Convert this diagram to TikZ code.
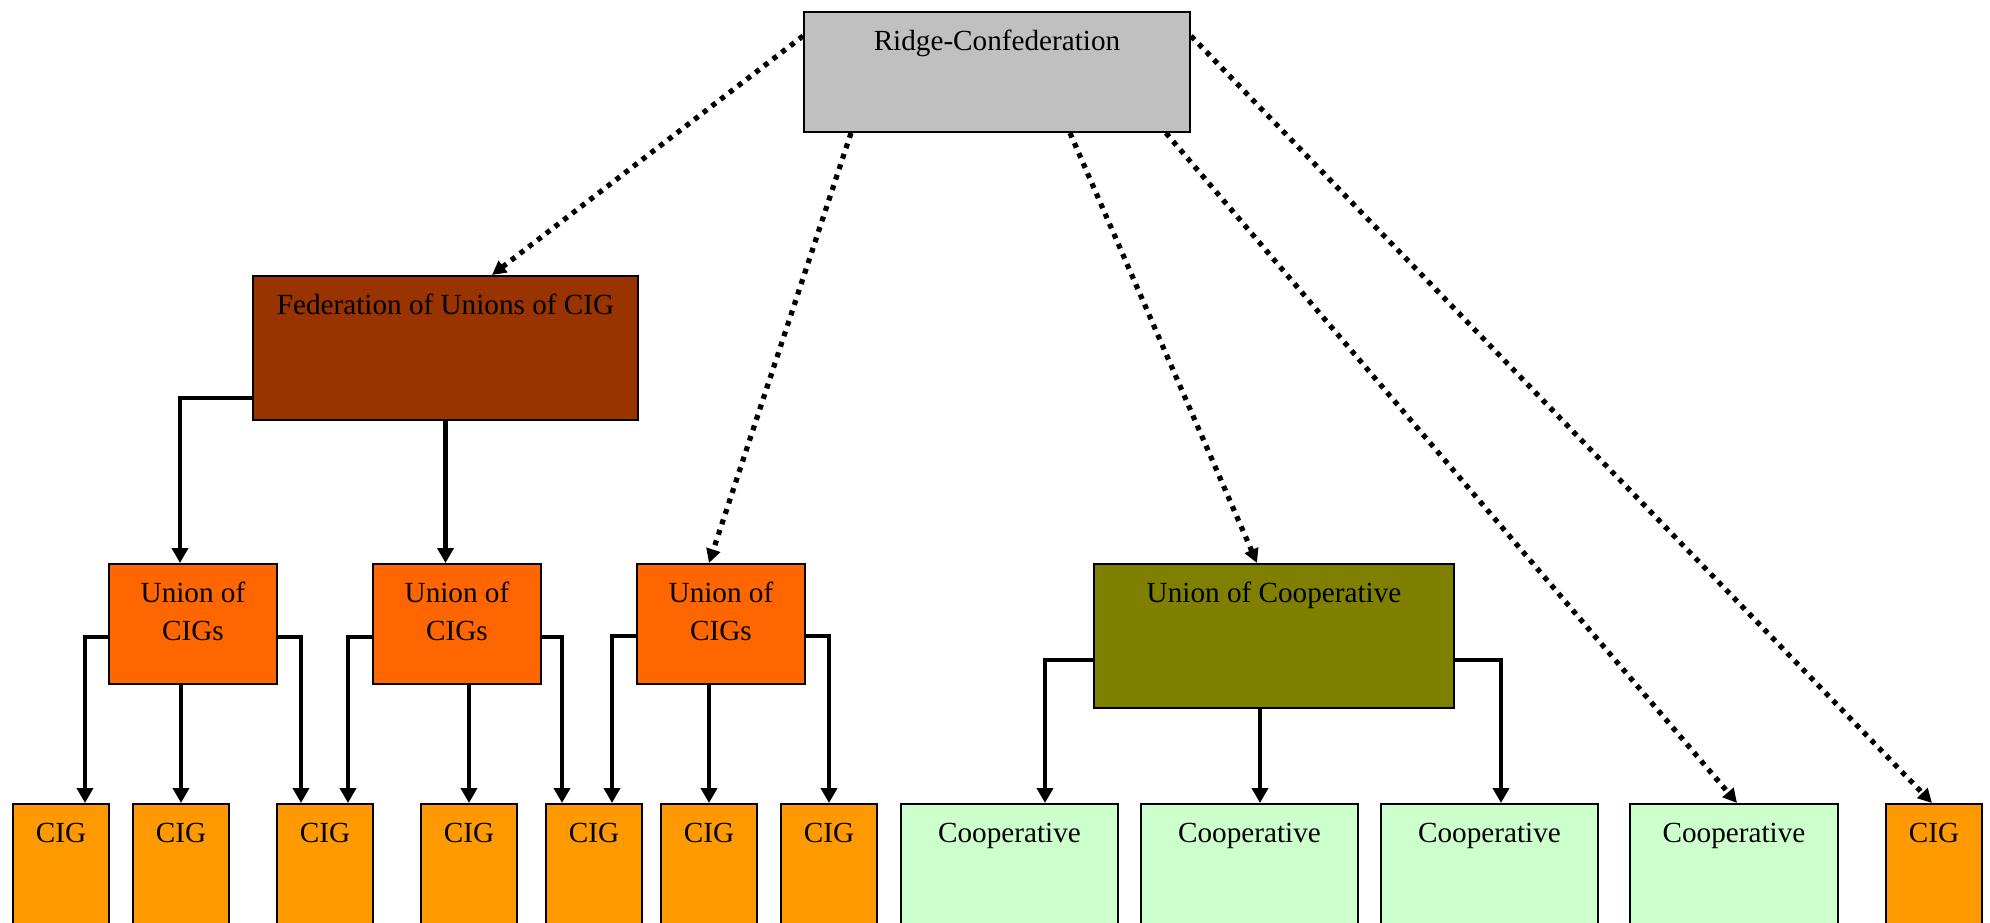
\documentclass[tikz,border=0pt]{standalone}
\usepackage{fontspec}
\setmainfont{Liberation Serif}
\usetikzlibrary{arrows.meta,calc}
\definecolor{ridgegray}{HTML}{C0C0C0}
\definecolor{fedbrown}{HTML}{993300}
\definecolor{unionorange}{HTML}{FF6600}
\definecolor{cigorange}{HTML}{FF9900}
\definecolor{coopolive}{HTML}{808000}
\definecolor{coopgreen}{HTML}{CCFFCC}
\tikzset{
  bx/.style={draw=black, line width=1pt, anchor=north west, inner xsep=0pt, inner ysep=0pt,
    text height=19pt, align=center,
    font=\fontsize{14.6pt}{19pt}\selectfont},
  twoline/.style={text height=38pt, text depth=22pt},
  conn/.style={line width=2.3pt, -{Triangle[width=8pt,length=7.5pt]}},
  dotconn/.style={line width=2.6pt, dash pattern=on 2.5pt off 3pt, -{Triangle[width=7pt,length=7pt]}},
}
\begin{document}
\begin{tikzpicture}[x=0.5pt,y=-0.5pt]
\useasboundingbox (0,0) rectangle (1990,922);
\clip (0,0) rectangle (1990,922);
% boxes
\node[bx, fill=ridgegray, minimum width=193pt, text depth=41pt] (ridge) at (803,11) {Ridge-Confederation};
\node[bx, fill=fedbrown, minimum width=192.5pt, text depth=53pt] (fed) at (252,275) {Federation of Unions of CIG};
\node[bx, twoline, fill=unionorange, minimum width=84pt] (u1) at (108,563) {Union of\\CIGs};
\node[bx, twoline, fill=unionorange, minimum width=84pt] (u2) at (372,563) {Union of\\CIGs};
\node[bx, twoline, fill=unionorange, minimum width=84pt] (u3) at (636,563) {Union of\\CIGs};
\node[bx, fill=coopolive, minimum width=180pt, text depth=53pt] (uc) at (1093,563) {Union of Cooperative};
\node[bx, fill=cigorange, minimum width=48pt, text depth=61pt] (c1) at (12,803) {CIG};
\node[bx, fill=cigorange, minimum width=48pt, text depth=61pt] (c2) at (132,803) {CIG};
\node[bx, fill=cigorange, minimum width=48pt, text depth=61pt] (c3) at (276,803) {CIG};
\node[bx, fill=cigorange, minimum width=48pt, text depth=61pt] (c4) at (420,803) {CIG};
\node[bx, fill=cigorange, minimum width=48pt, text depth=61pt] (c5) at (545,803) {CIG};
\node[bx, fill=cigorange, minimum width=48pt, text depth=61pt] (c6) at (660,803) {CIG};
\node[bx, fill=cigorange, minimum width=48pt, text depth=61pt] (c7) at (780,803) {CIG};
\node[bx, fill=coopgreen, minimum width=108.5pt, text depth=61pt] (k1) at (900,803) {Cooperative};
\node[bx, fill=coopgreen, minimum width=108.5pt, text depth=61pt] (k2) at (1140,803) {Cooperative};
\node[bx, fill=coopgreen, minimum width=108.5pt, text depth=61pt] (k3) at (1380,803) {Cooperative};
\node[bx, fill=coopgreen, minimum width=104pt, text depth=61pt] (k4) at (1629,803) {Cooperative};
\node[bx, fill=cigorange, minimum width=48pt, text depth=61pt] (c8) at (1885,803) {CIG};
% solid connectors
\draw[conn] ($(fed.south west)+(0,-23)$) -| ($(u1.north west)+(72,0)$);
\draw[conn] (fed.south) -- (fed.south |- u2.north);
\draw[conn] ($(u1.west)+(0,13)$) -| ($(c1.north west)+(73,0)$);
\draw[conn] (u1.south -| c2.north) -- (c2.north);
\draw[conn] ($(u1.east)+(0,13)$) -| ($(c3.north west)+(25,0)$);
\draw[conn] ($(u2.west)+(0,13)$) -| ($(c3.north west)+(72,0)$);
\draw[conn] (u2.south -| c4.north) -- (c4.north);
\draw[conn] ($(u2.east)+(0,13)$) -| ($(c5.north west)+(17,0)$);
\draw[conn] ($(u3.west)+(0,12)$) -| ($(c5.north west)+(67,0)$);
\draw[conn] (u3.south -| c6.north) -- (c6.north);
\draw[conn] ($(u3.east)+(0,12)$) -| (c7.north);
\draw[conn] ($(uc.west)+(0,24)$) -| ($(k1.north west)+(145,0)$);
\draw[conn] ($(uc.south west)+(167,0)$) -- ($(k2.north west)+(120,0)$);
\draw[conn] ($(uc.east)+(0,24)$) -| ($(k3.north west)+(121,0)$);
% dotted connectors
\draw[dotconn] ($(ridge.north west)+(0,25)$) -- ($(fed.north west)+(240,0)$);
\draw[dotconn] ($(ridge.south west)+(48,0)$) -- ($(u3.north west)+(73,0)$);
\draw[dotconn] ($(ridge.south west)+(267,0)$) -- ($(uc.north west)+(164,0)$);
\draw[dotconn] ($(ridge.south west)+(363,0)$) -- ($(k4.north west)+(108,0)$);
\draw[dotconn] ($(ridge.north east)+(0,25)$) -- ($(c8.north west)+(47,0)$);
\end{tikzpicture}
\end{document}
